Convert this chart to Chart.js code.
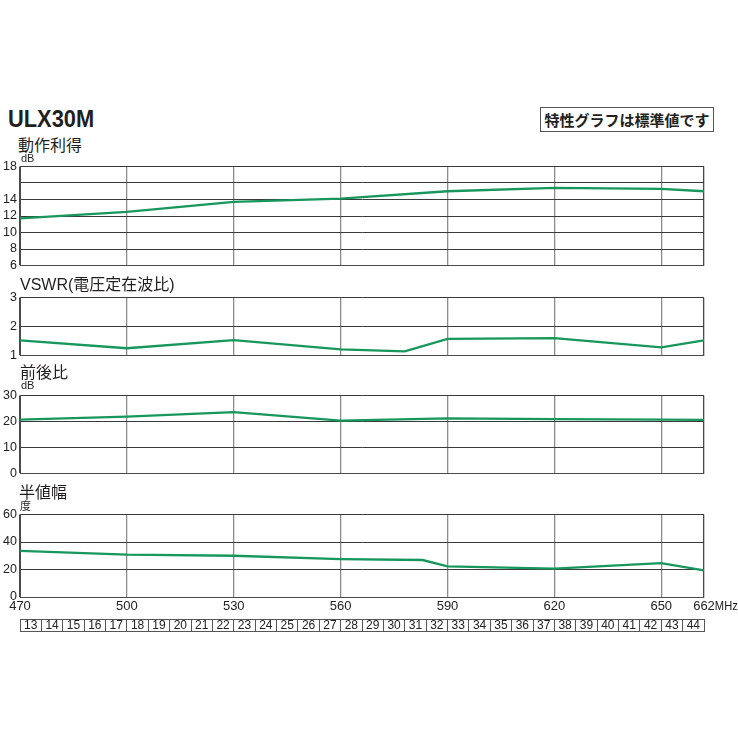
<!DOCTYPE html>
<html>
<head>
<meta charset="utf-8">
<script src="https://cdn.jsdelivr.net/npm/chart.js@4.4.1/dist/chart.umd.min.js"></script>
<style>
  body { margin: 0; background: #fff; width: 738px; height: 738px; position: relative; overflow: hidden;
         font-family: 'Liberation Sans', 'Noto Sans CJK JP', sans-serif; color: #231f20; }
  canvas { position: absolute; left: 0; }
  .t { position: absolute; white-space: nowrap; line-height: 1; z-index: 2; }
  .jp { font-family: 'Noto Sans CJK JP', sans-serif; }
  .lat { font-family: 'Liberation Sans', Arial, sans-serif; }
</style>
</head>
<body>
<canvas id="gain" width="738" height="120" style="top:156px"></canvas>
<canvas id="vswr" width="738" height="79" style="top:287px"></canvas>
<canvas id="fb" width="738" height="99" style="top:385px"></canvas>
<canvas id="bw" width="738" height="111" style="top:504px"></canvas>
<canvas id="ch" width="738" height="16" style="top:617px"></canvas>

<div class="t" style="left:8px;top:107px;font-size:24px;font-weight:bold;transform:scaleX(0.91);transform-origin:left">ULX30M</div>
<div class="t jp" style="left:540px;top:107px;width:172px;height:23px;border:1px solid #555;font-size:15px;font-weight:bold;display:flex;align-items:center;justify-content:center">特性グラフは標準値です</div>
<div class="t jp" style="left:18px;top:136px;font-size:16px">動作利得</div>
<div class="t" style="left:21px;top:153px;font-size:11px">dB</div>
<div class="t jp" style="left:20px;top:275px;font-size:16px"><span class="lat">VSWR(</span>電圧定在波比<span class="lat">)</span></div>
<div class="t jp" style="left:20px;top:363px;font-size:16px">前後比</div>
<div class="t" style="left:21px;top:380px;font-size:11px">dB</div>
<div class="t jp" style="left:19px;top:483px;font-size:16px">半値幅</div>
<div class="t jp" style="left:20px;top:500px;font-size:11px">度</div>

<script>
// frequency axis (MHz)
const xTicks = [470, 500, 530, 560, 590, 620, 650, 662];

// 動作利得 (dB)
const gainMHz = [470, 500, 530, 560, 590, 620, 650, 662];
const gainDb = [11.7, 12.5, 13.7, 14.1, 15.0, 15.4, 15.3, 15.0];

// VSWR
const vswrMHz = [470, 500, 530, 560, 578, 590, 620, 650, 662];
const vswrVal = [1.52, 1.25, 1.53, 1.21, 1.14, 1.57, 1.60, 1.28, 1.52];

// 前後比 (dB)
const fbMHz = [470, 500, 530, 560, 590, 620, 650, 662];
const fbDb = [20.7, 21.9, 23.6, 20.3, 21.2, 20.9, 20.7, 20.6];

// 半値幅 (度)
const bwMHz = [470, 500, 530, 560, 583, 590, 620, 650, 662];
const bwDeg = [33.5, 30.8, 30.0, 27.6, 26.9, 22.3, 20.6, 24.7, 19.4];

// UHF channels
const channels = ['13', '14', '15', '16', '17', '18', '19', '20', '21', '22', '23', '24', '25', '26', '27', '28',
  '29', '30', '31', '32', '33', '34', '35', '36', '37', '38', '39', '40', '41', '42', '43', '44'];

const GREEN = '#17975b';
const DARK = '#4a4a4a';
Chart.defaults.font.family = "'Liberation Sans', Arial, sans-serif";
Chart.defaults.color = '#222';

function pts(xs, ys) {
  return xs.map((x, i) => ({ x: x, y: ys[i] }));
}

function panel(id, xs, ys, yMin, yMax, yStep, hideLabel, showX) {
  const plugins = [];
  if (showX) {
    plugins.push({
      id: 'mhz',
      afterDraw(chart) {
        const s = chart.scales.x;
        const ctx = chart.ctx;
        ctx.save();
        ctx.font = "13px 'Liberation Sans', Arial, sans-serif";
        const w = ctx.measureText('662').width;
        ctx.translate(s.getPixelForValue(662) + w / 2, s.top + 2 + 7.8);
        ctx.scale(0.86, 1);
        ctx.fillStyle = '#222';
        ctx.textAlign = 'left';
        ctx.textBaseline = 'middle';
        ctx.fillText('MHz', 0, 0);
        ctx.restore();
      }
    });
  }
  return new Chart(document.getElementById(id), {
    type: 'line',
    data: {
      datasets: [{ data: pts(xs, ys), borderColor: GREEN, borderWidth: 2.3, pointRadius: 0, tension: 0 }]
    },
    options: {
      responsive: false,
      animation: false,
      layout: { padding: { top: 10, right: 34, bottom: showX ? 0 : 8, left: 0 } },
      plugins: { legend: { display: false }, tooltip: { enabled: false } },
      scales: {
        x: {
          type: 'linear', min: 470, max: 662,
          afterBuildTicks: s => { s.ticks = xTicks.map(v => ({ value: v })); },
          grid: {
            color: c => (c.tick && (c.tick.value === 470 || c.tick.value === 662)) ? DARK : '#8c8c8c',
            lineWidth: 1.3, drawTicks: false
          },
          border: { color: DARK, width: 1 },
          ticks: { display: !!showX, padding: 2, maxRotation: 0, autoSkip: false, font: { size: 13 } },
          afterFit: s => { s.height = showX ? 18 : 0; }
        },
        y: {
          min: yMin, max: yMax,
          ticks: { stepSize: yStep, autoSkip: false, padding: 3, font: { size: 12.5 }, callback: v => v === hideLabel ? '' : v },
          grid: { color: '#3a3a3a', lineWidth: 1, drawTicks: false },
          border: { color: DARK, width: 1 },
          afterFit: s => { s.width = 20; }
        }
      }
    },
    plugins: plugins
  });
}

panel('gain', gainMHz, gainDb, 6, 18, 2, 16, false);
panel('vswr', vswrMHz, vswrVal, 1, 3, 1, null, false);
panel('fb', fbMHz, fbDb, 0, 30, 10, null, false);
panel('bw', bwMHz, bwDeg, 0, 60, 20, null, true);

// channel number strip
new Chart(document.getElementById('ch'), {
  type: 'line',
  data: { labels: channels, datasets: [{ data: [] }] },
  options: {
    responsive: false,
    animation: false,
    layout: { padding: { top: 2, right: 34, bottom: 2, left: 0 } },
    plugins: { legend: { display: false }, tooltip: { enabled: false } },
    scales: {
      x: {
        type: 'category', offset: true,
        grid: { offset: true, color: '#555', drawTicks: false },
        border: { color: '#555' },
        ticks: { display: false },
        afterFit: s => { s.height = 0; }
      },
      y: {
        min: 0, max: 1,
        ticks: { display: false, stepSize: 1 },
        grid: { color: '#555', drawTicks: false },
        border: { color: '#555' },
        afterFit: s => { s.width = 20; }
      }
    }
  },
  plugins: [{
    id: 'chLabels',
    afterDraw(chart) {
      const s = chart.scales.x;
      const a = chart.chartArea;
      const ctx = chart.ctx;
      ctx.save();
      ctx.font = "12px 'Liberation Sans', Arial, sans-serif";
      ctx.fillStyle = '#222';
      ctx.textAlign = 'center';
      ctx.textBaseline = 'middle';
      channels.forEach((c, i) => ctx.fillText(c, s.getPixelForTick(i), (a.top + a.bottom) / 2 + 1));
      ctx.restore();
    }
  }]
});
</script>
</body>
</html>
